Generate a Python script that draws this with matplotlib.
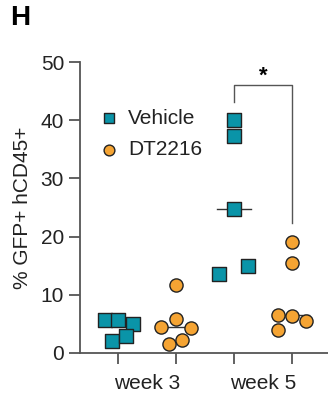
import matplotlib
matplotlib.use('Agg')
import matplotlib.pyplot as plt
import numpy as np

# valores
veh_w3 = [5.6, 5.6, 4.9, 2.0, 3.0]
veh_w3_x = [-0.23, 0.0, 0.26, -0.10, 0.13]
dt_w3 = [11.7, 5.8, 4.5, 4.3, 1.6, 2.3]
dt_w3_x = [0.0, 0.0, -0.26, 0.25, -0.12, 0.11]
veh_w5 = [40.0, 37.3, 24.7, 13.6, 15.0]
veh_w5_x = [0.0, 0.0, 0.0, -0.26, 0.24]
dt_w5 = [19.0, 15.4, 6.6, 6.4, 5.5, 4.0]
dt_w5_x = [0.0, 0.0, -0.24, 0.0, 0.24, -0.24]

semanas = ['week 3', 'week 5']
teal = '#0A94A8'
naranja = '#F5A433'
gris = '#555555'

plt.rcParams['font.family'] = ['Liberation Sans', 'DejaVu Sans']

fig = plt.figure(figsize=(3.28, 3.96), dpi=100)
ax = fig.add_axes([0.244, 0.1086, 0.756, 0.7348])

grupos = [(0, veh_w3, veh_w3_x, teal, 's'),
          (1, dt_w3, dt_w3_x, naranja, 'o'),
          (2, veh_w5, veh_w5_x, teal, 's'),
          (3, dt_w5, dt_w5_x, naranja, 'o')]
for pos, vals, jit, col, mk in grupos:
    med = np.median(vals)
    ax.plot([pos - 0.3, pos + 0.3], [med, med], color='#333333', lw=1.0, zorder=2)
    ax.scatter(pos + np.array(jit), vals, s=90, marker=mk, color=col,
               edgecolor='#222222', linewidth=1.0, zorder=3, clip_on=False)

# leyenda a mano
ax.scatter([-0.16], [40.3], s=60, marker='s', color=teal, edgecolor='#222222', linewidth=1.0)
ax.scatter([-0.16], [34.9], s=60, marker='o', color=naranja, edgecolor='#222222', linewidth=1.0)
ax.text(0.17, 40.3, 'Vehicle', fontsize=15, va='center', color='#222222')
ax.text(0.17, 34.9, 'DT2216', fontsize=15, va='center', color='#222222')

# corchete de significancia
ax.plot([2, 2, 3, 3], [43.1, 46.0, 46.0, 22.3], color=gris, lw=1.0)
ax.text(2.5, 47.6, '*', fontsize=16, ha='center', va='center', fontweight='bold')

ax.set_ylim(0, 50)
ax.set_xlim(-0.655, 3.62)
ax.set_yticks([0, 10, 20, 30, 40, 50])
ax.set_xticks([0, 1, 2, 3])
ax.set_xticklabels([])
ax.set_xticks([0.5, 2.5], minor=True)
ax.set_xticklabels(semanas, minor=True)
ax.tick_params(axis='x', which='minor', length=0, pad=15, labelsize=15, labelcolor='#222222')
ax.tick_params(axis='both', which='major', length=8, width=1.3, color=gris,
               labelsize=15, labelcolor='#222222')
for lado in ['top', 'right']:
    ax.spines[lado].set_visible(False)
for lado in ['left', 'bottom']:
    ax.spines[lado].set_color(gris)
    ax.spines[lado].set_linewidth(1.3)
ax.set_ylabel('% GFP+ hCD45+', fontsize=15, color='#222222', labelpad=6)

fig.text(0.03, 0.955, 'H', fontsize=20, fontweight='bold', va='center', ha='left')

fig.savefig('out.png', dpi=100)
